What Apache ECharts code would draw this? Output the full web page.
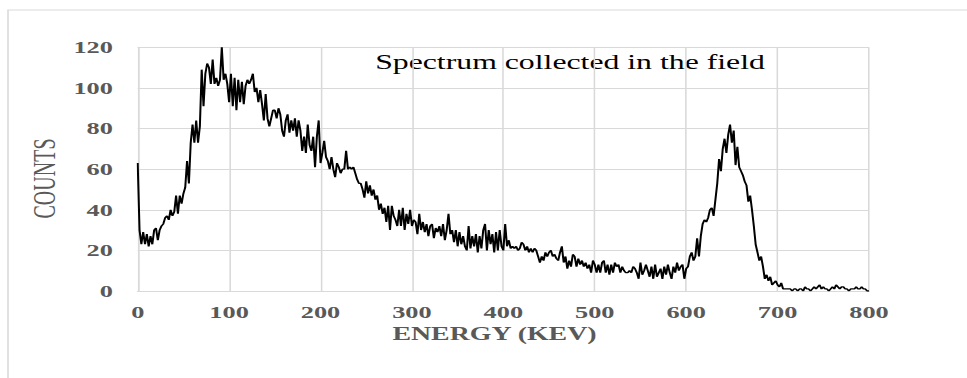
<!DOCTYPE html>
<html>
<head>
<meta charset="utf-8">
<title>Spectrum</title>
<script src="https://cdn.jsdelivr.net/npm/echarts@6/dist/echarts.min.js"></script>
<style>
  html, body { margin: 0; padding: 0; background: #fff; overflow: hidden; }
  #chart { height: 378px; transform-origin: 0 0; }
</style>
</head>
<body>
<div id="chart"></div>
<script>
// the original figure is stretched sideways, so the chart is drawn narrow and scaled in x
const STRETCH = 1.55;
const PAGE_W = 967;

// energy axis (keV) and count axis
const STEP = 2;            // keV per channel
const xMin = 0, xMax = 800, xInterval = 100;
const yMin = 0, yMax = 120, yInterval = 20;

const title = 'Spectrum collected in the field';
const xName = 'ENERGY (KEV)';
const yName = 'COUNTS';

// counts per channel, 0 .. 800 keV, one value every 2 keV
const counts = [
  63, 30, 23, 29, 23, 28, 22, 27, 23, 30,
  31, 25, 30, 32, 33, 36, 37, 35, 40, 37,
  39, 47, 38, 47, 43, 48, 51, 64, 53, 73,
  82, 73, 84, 73, 81, 109, 91, 107, 112, 110,
  102, 114, 102, 105, 101, 104, 120, 104, 107, 102,
  93, 107, 91, 105, 89, 104, 93, 103, 92, 101,
  104, 102, 104, 107, 98, 100, 93, 99, 92, 84,
  97, 85, 81, 85, 89, 89, 85, 90, 87, 79,
  76, 84, 87, 78, 84, 79, 85, 76, 84, 79,
  69, 76, 68, 82, 72, 69, 76, 61, 76, 84,
  63, 68, 74, 66, 64, 60, 66, 60, 56, 63,
  61, 58, 60, 60, 69, 60, 61, 60, 61, 58,
  55, 53, 53, 50, 46, 54, 48, 52, 47, 50,
  45, 47, 40, 43, 38, 41, 34, 42, 30, 42,
  37, 35, 32, 40, 32, 41, 30, 38, 33, 40,
  32, 35, 34, 28, 38, 30, 34, 29, 33, 27,
  32, 33, 26, 31, 29, 32, 27, 33, 25, 30,
  38, 28, 30, 24, 30, 22, 29, 23, 27, 22,
  20, 32, 21, 27, 22, 28, 19, 27, 21, 30,
  33, 20, 30, 23, 28, 19, 29, 20, 30, 22,
  20, 33, 22, 25, 21, 22, 21, 22, 20, 21,
  24, 23, 20, 22, 19, 21, 19, 21, 20, 17,
  14, 17, 15, 19, 17, 19, 20, 17, 18, 16,
  15, 19, 22, 14, 17, 11, 15, 12, 18, 17,
  12, 16, 13, 15, 12, 14, 11, 13, 9, 15,
  13, 9, 13, 9, 14, 15, 9, 13, 8, 13,
  9, 14, 12, 13, 9, 12, 10, 9, 9, 10,
  9, 12, 11, 9, 6, 14, 8, 10, 13, 10,
  7, 12, 6, 13, 7, 9, 11, 6, 12, 8,
  13, 9, 6, 12, 9, 14, 10, 12, 13, 6,
  11, 12, 17, 19, 15, 17, 26, 17, 27, 33,
  35, 34, 36, 40, 41, 37, 45, 53, 65, 59,
  70, 75, 68, 77, 82, 73, 79, 62, 71, 61,
  59, 57, 54, 52, 44, 47, 40, 32, 23, 19,
  15, 17, 12, 6, 8, 5, 7, 3, 4, 5,
  3, 2, 4, 1, 1, 1, 1, 1, 0, 1,
  1, 0, 1, 1, 0, 2, 1, 1, 0, 1,
  2, 1, 2, 3, 1, 2, 1, 1, 0, 1,
  2, 1, 3, 2, 1, 2, 2, 1, 1, 0,
  1, 1, 1, 2, 1, 1, 2, 1, 1, 0,
  0
];

const W = PAGE_W / STRETCH;
const sx = v => v / STRETCH;   // page x -> chart x

const el = document.getElementById('chart');
el.style.width = W + 'px';
el.style.transform = 'scaleX(' + STRETCH + ')';

const chart = echarts.init(el, null, { renderer: 'svg' });

const gridColor = '#d9d9d9';
const labelColor = '#595959';
const serif = '"Liberation Serif", "Times New Roman", serif';

const option = {
  animation: false,
  grid: {
    left: sx(137.7),
    right: W - sx(868.8),
    top: 47.3,
    bottom: 378 - 291
  },
  xAxis: {
    type: 'value',
    min: xMin,
    max: xMax,
    interval: xInterval,
    axisLine: { show: true, lineStyle: { color: gridColor, width: 1.2 } },
    axisTick: { show: false },
    splitLine: { show: true, lineStyle: { color: gridColor, width: 1 } },
    axisLabel: {
      color: labelColor,
      fontFamily: serif,
      fontWeight: 'bold',
      fontSize: 17,
      margin: 13
    }
  },
  yAxis: {
    type: 'value',
    min: yMin,
    max: yMax,
    interval: yInterval,
    axisLine: { show: true, lineStyle: { color: gridColor, width: 1 } },
    axisTick: { show: false },
    splitLine: { show: true, lineStyle: { color: gridColor, width: 1 } },
    axisLabel: {
      color: labelColor,
      fontFamily: serif,
      fontWeight: 'bold',
      fontSize: 17,
      margin: 16
    }
  },
  series: [
    {
      type: 'line',
      data: counts.map((c, i) => [i * STEP, c]),
      showSymbol: false,
      silent: true,
      lineStyle: { color: '#000', width: 1.3 }
    }
  ],
  graphic: [
    {
      // outer frame, only top and left edges fall inside the page
      type: 'rect',
      z: -10,
      shape: { x: sx(8), y: 10, width: 1000, height: 1000 },
      style: { fill: 'none', stroke: gridColor, lineWidth: 1 }
    },
    {
      type: 'text',
      x: sx(570),
      y: 62,
      style: {
        text: title,
        fontSize: 20.5,
        fontFamily: serif,
        fill: '#000',
        align: 'center', textAlign: 'center',
        verticalAlign: 'middle', textVerticalAlign: 'middle'
      }
    },
    {
      type: 'text',
      x: sx(494.5),
      y: 334,
      style: {
        text: xName,
        fontSize: 18,
        fontWeight: 'bold',
        fontFamily: serif,
        fill: labelColor,
        align: 'center', textAlign: 'center',
        verticalAlign: 'middle', textVerticalAlign: 'middle'
      }
    },
    {
      type: 'text',
      x: sx(45),
      y: 178.5,
      rotation: Math.PI / 2,
      style: {
        text: yName,
        fontSize: 20,
        fontFamily: serif,
        fill: labelColor,
        align: 'center', textAlign: 'center',
        verticalAlign: 'middle', textVerticalAlign: 'middle'
      }
    }
  ]
};

chart.setOption(option);
</script>
</body>
</html>
